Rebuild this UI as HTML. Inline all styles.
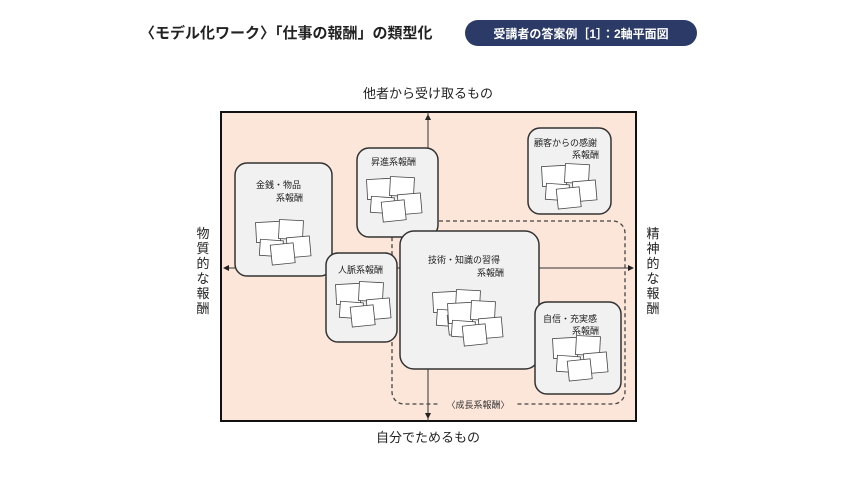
<!DOCTYPE html>
<html><head><meta charset="utf-8"><style>
body{margin:0;background:#fff;}
svg text{font-family:"Liberation Sans","Noto Sans CJK JP",sans-serif;}
</style></head><body>
<svg width="860" height="483" viewBox="0 0 860 483" xmlns="http://www.w3.org/2000/svg">
<defs>
<g id="cl" fill="#fff" stroke="#444" stroke-width="0.8">
<rect x="0" y="0" width="24" height="20" transform="rotate(-3 11 9)"/>
<rect x="4" y="18" width="23" height="16" transform="rotate(4 15 24)"/>
<rect x="23" y="-2" width="24" height="19" transform="rotate(3 33 7)"/>
<rect x="31" y="15" width="23" height="20" transform="rotate(-5 41 23)"/>
<rect x="15" y="22" width="23" height="20" transform="rotate(-6 26 30)"/>
</g>
<marker id="ar" markerWidth="6" markerHeight="6" refX="5" refY="3" orient="auto"><path d="M0,0 L6,3 L0,6z" fill="#222"/></marker>
</defs>
<text x="140" y="38" font-size="15" font-weight="bold" fill="#222">〈モデル化ワーク〉「仕事の報酬」の類型化</text>
<rect x="465" y="20" width="232" height="26" rx="13" fill="#2b3a66"/>
<text x="581" y="38" font-size="12" font-weight="bold" fill="#fff" text-anchor="middle">受講者の答案例［1］：2軸平面図</text>
<text x="428" y="98" font-size="13" fill="#222" text-anchor="middle">他者から受け取るもの</text>
<text x="428" y="442" font-size="13" fill="#222" text-anchor="middle">自分でためるもの</text>
<g font-size="13" fill="#222" text-anchor="middle">
<text x="203" y="238">物</text><text x="203" y="253">質</text><text x="203" y="268">的</text><text x="203" y="283">な</text><text x="203" y="298">報</text><text x="203" y="313">酬</text>
<text x="653" y="238">精</text><text x="653" y="253">神</text><text x="653" y="268">的</text><text x="653" y="283">な</text><text x="653" y="298">報</text><text x="653" y="313">酬</text>
</g>
<rect x="221" y="112" width="415" height="309" fill="#fce6d9" stroke="#111" stroke-width="2"/>
<line x1="428" y1="421" x2="428" y2="115" stroke="#333" stroke-width="1" marker-end="url(#ar)"/>
<line x1="428" y1="112" x2="428" y2="418" stroke="#333" stroke-width="1" marker-end="url(#ar)"/>
<line x1="428" y1="268" x2="224" y2="268" stroke="#333" stroke-width="1" marker-end="url(#ar)"/>
<line x1="428" y1="268" x2="633" y2="268" stroke="#333" stroke-width="1" marker-end="url(#ar)"/>
<rect x="392" y="221" width="233" height="183" rx="12" fill="none" stroke="#444" stroke-width="1.3" stroke-dasharray="4,3"/>
<rect x="440" y="397" width="76" height="14" fill="#fce6d9"/>
<text x="478" y="408" font-size="9" fill="#333" text-anchor="middle">〈成長系報酬〉</text>
<g stroke="#333" stroke-width="1.5" fill="#f1f1f2">
<rect x="235" y="163" width="97" height="113" rx="12"/>
<rect x="357" y="148" width="81" height="89" rx="12"/>
<rect x="528" y="128" width="83" height="86" rx="12"/>
<rect x="326" y="253" width="71" height="89" rx="12"/>
<rect x="400" y="231" width="139" height="138" rx="14"/>
<rect x="535" y="302" width="86" height="92" rx="12"/>
</g>
<g font-size="9" fill="#222">
<text x="256" y="188">金銭・物品</text><text x="276" y="201">系報酬</text>
<text x="371" y="165">昇進系報酬</text>
<text x="534" y="146">顧客からの感謝</text><text x="572" y="158">系報酬</text>
<text x="338" y="273">人脈系報酬</text>
<text x="428" y="263">技術・知識の習得</text><text x="477" y="276">系報酬</text>
<text x="543" y="322">自信・充実感</text><text x="572" y="334">系報酬</text>
</g>
<use href="#cl" x="256" y="222"/>
<use href="#cl" x="367" y="179"/>
<use href="#cl" x="542" y="166"/>
<use href="#cl" x="336" y="284"/>
<use href="#cl" x="433" y="292"/>
<use href="#cl" x="448" y="303"/>
<use href="#cl" x="553" y="338"/>
</svg>
</body></html>
